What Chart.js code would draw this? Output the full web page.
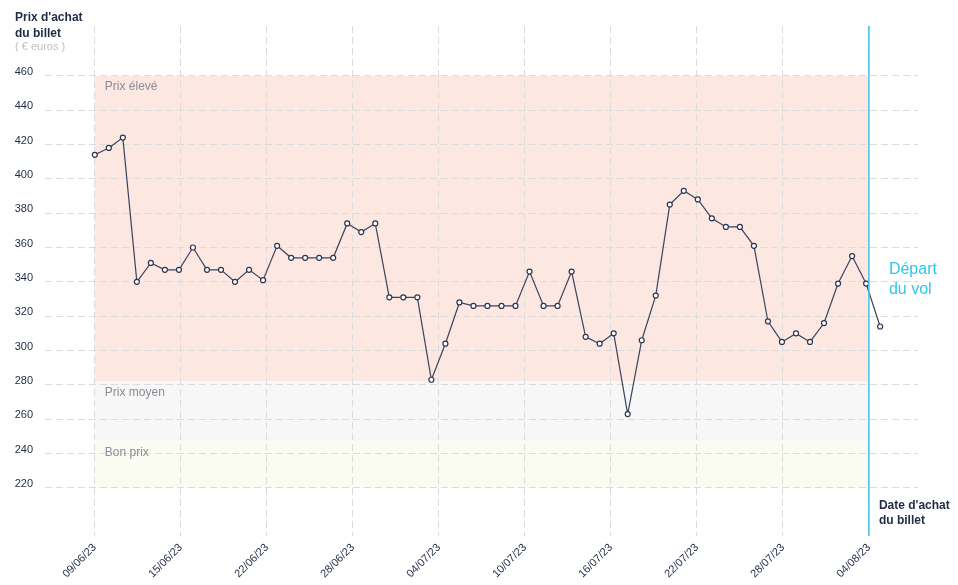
<!DOCTYPE html>
<html lang="fr">
  <head>
    <meta charset="UTF-8" />
    <meta name="viewport" content="width=device-width, initial-scale=1.0" />
    <title>Prix d'achat du billet</title>
    <script src="https://cdn.jsdelivr.net/npm/chart.js"></script>
    <style>
      html, body { margin: 0; padding: 0; background: #fff; }
      .wrap { width: 958px; height: 585px; }
    </style>
  </head>
  <body>
    <div class="wrap"><canvas id="myChart" width="958" height="585"></canvas></div>
    <script>
      // dates shown on the x axis
      const tickLabels = ["09/06/23", "15/06/23", "22/06/23", "28/06/23", "04/07/23",
        "10/07/23", "16/07/23", "22/07/23", "28/07/23", "04/08/23"];

      // ticket price, one per purchase day
      const prices = [
        414, 418, 424, 340, 351, 347, 347, 360, 347, 347,
        340, 347, 341, 361, 354, 354, 354, 354, 374, 369,
        374, 331, 331, 331, 283, 304, 328, 326, 326, 326,
        326, 346, 326, 326, 346, 308, 304, 310, 263, 306,
        332, 385, 393, 388, 377, 372, 372, 361, 317, 305,
        310, 305, 316, 339, 355, 339, 314
      ];

      const yTicks = [220, 240, 260, 280, 300, 320, 340, 360, 380, 400, 420, 440, 460];

      // price bands
      const bandNames = ["Prix élevé", "Prix moyen", "Bon prix"];
      const bandFrom = [282, 247, 220];
      const bandTo = [460, 282, 247];
      const bandColors = ["#fde7e1", "#f7f7f7", "#fbfcf1"];

      // position of the flight departure on the x axis
      const departIndex = 55.2;

      const font = "'Liberation Sans', Arial, sans-serif";
      const navy = "#1f2b45";
      const gridColor = "#dcdcdc";

      const points = prices.map((v, i) => ({ x: i, y: v }));
      const tickStep = departIndex / (tickLabels.length - 1);

      const bandsPlugin = {
        id: "bands",
        beforeDraw(chart) {
          const { ctx, scales: { x, y } } = chart;
          const x0 = x.getPixelForValue(0);
          const x1 = x.getPixelForValue(departIndex);
          ctx.save();
          bandNames.forEach((name, i) => {
            const top = y.getPixelForValue(bandTo[i]);
            const bot = y.getPixelForValue(bandFrom[i]);
            ctx.fillStyle = bandColors[i];
            ctx.fillRect(x0, top, x1 - x0, bot - top);
          });
          ctx.restore();
        },
        afterDraw(chart) {
          const { ctx, chartArea, scales: { x, y } } = chart;
          const x0 = x.getPixelForValue(0);
          const xd = x.getPixelForValue(departIndex);
          ctx.save();

          // band names
          ctx.font = "12px " + font;
          ctx.fillStyle = "#8a8d99";
          ctx.textBaseline = "middle";
          ctx.textAlign = "left";
          bandNames.forEach((name, i) => {
            ctx.fillText(name, x0 + 10, y.getPixelForValue(bandTo[i]) + 11);
          });

          // departure line
          ctx.strokeStyle = "#3ec6e6";
          ctx.lineWidth = 1.5;
          ctx.beginPath();
          ctx.moveTo(xd, chartArea.top);
          ctx.lineTo(xd, chartArea.bottom);
          ctx.stroke();

          ctx.font = "16px " + font;
          ctx.fillStyle = "#2fc6ee";
          ctx.fillText("Départ", xd + 20, 270);
          ctx.fillText("du vol", xd + 20, 290);

          // axis titles
          ctx.font = "bold 12px " + font;
          ctx.fillStyle = navy;
          ctx.fillText("Prix d'achat", 15, 18);
          ctx.fillText("du billet", 15, 34);
          ctx.font = "11px " + font;
          ctx.fillStyle = "#bdbdbd";
          ctx.fillText("( € euros )", 15, 47);

          ctx.font = "bold 12px " + font;
          ctx.fillStyle = navy;
          ctx.fillText("Date d'achat", xd + 10, 506);
          ctx.fillText("du billet", xd + 10, 521);
          ctx.restore();
        }
      };

      const ctx = document.getElementById("myChart");

      new Chart(ctx, {
        type: "line",
        data: {
          datasets: [
            {
              data: points,
              borderColor: "#3a4360",
              borderWidth: 1.2,
              pointRadius: 2.5,
              pointHoverRadius: 2.5,
              pointBackgroundColor: "#ffffff",
              pointBorderColor: "#2c3550",
              pointBorderWidth: 1.2,
              tension: 0,
            },
          ],
        },
        options: {
          responsive: false,
          animation: false,
          layout: {
            padding: { top: 26, right: 40, left: 0, bottom: 0 },
          },
          plugins: {
            legend: { display: false },
            tooltip: { enabled: false },
          },
          scales: {
            x: {
              type: "linear",
              min: -3.55,
              max: 58.7,
              afterBuildTicks: (s) => {
                s.ticks = tickLabels.map((l, i) => ({ value: i * tickStep }));
              },
              afterFit: (s) => { s.height = 49; },
              border: { display: false, dash: [7, 4] },
              grid: {
                color: gridColor,
                lineWidth: 1,
                drawTicks: false,
              },
              ticks: {
                autoSkip: false,
                minRotation: 45,
                maxRotation: 45,
                padding: 5,
                color: navy,
                font: { family: font, size: 11 },
                callback: (v, i) => tickLabels[i],
              },
            },
            y: {
              min: 192,
              max: 489,
              afterBuildTicks: (s) => {
                s.ticks = yTicks.map((v) => ({ value: v }));
              },
              afterFit: (s) => { s.width = 45; },
              border: { display: false, dash: [7, 4] },
              grid: {
                color: gridColor,
                lineWidth: 1,
                drawTicks: false,
              },
              ticks: {
                padding: 12,
                labelOffset: -4,
                color: navy,
                font: { family: font, size: 11 },
              },
            },
          },
        },
        plugins: [bandsPlugin],
      });
    </script>
  </body>
</html>
